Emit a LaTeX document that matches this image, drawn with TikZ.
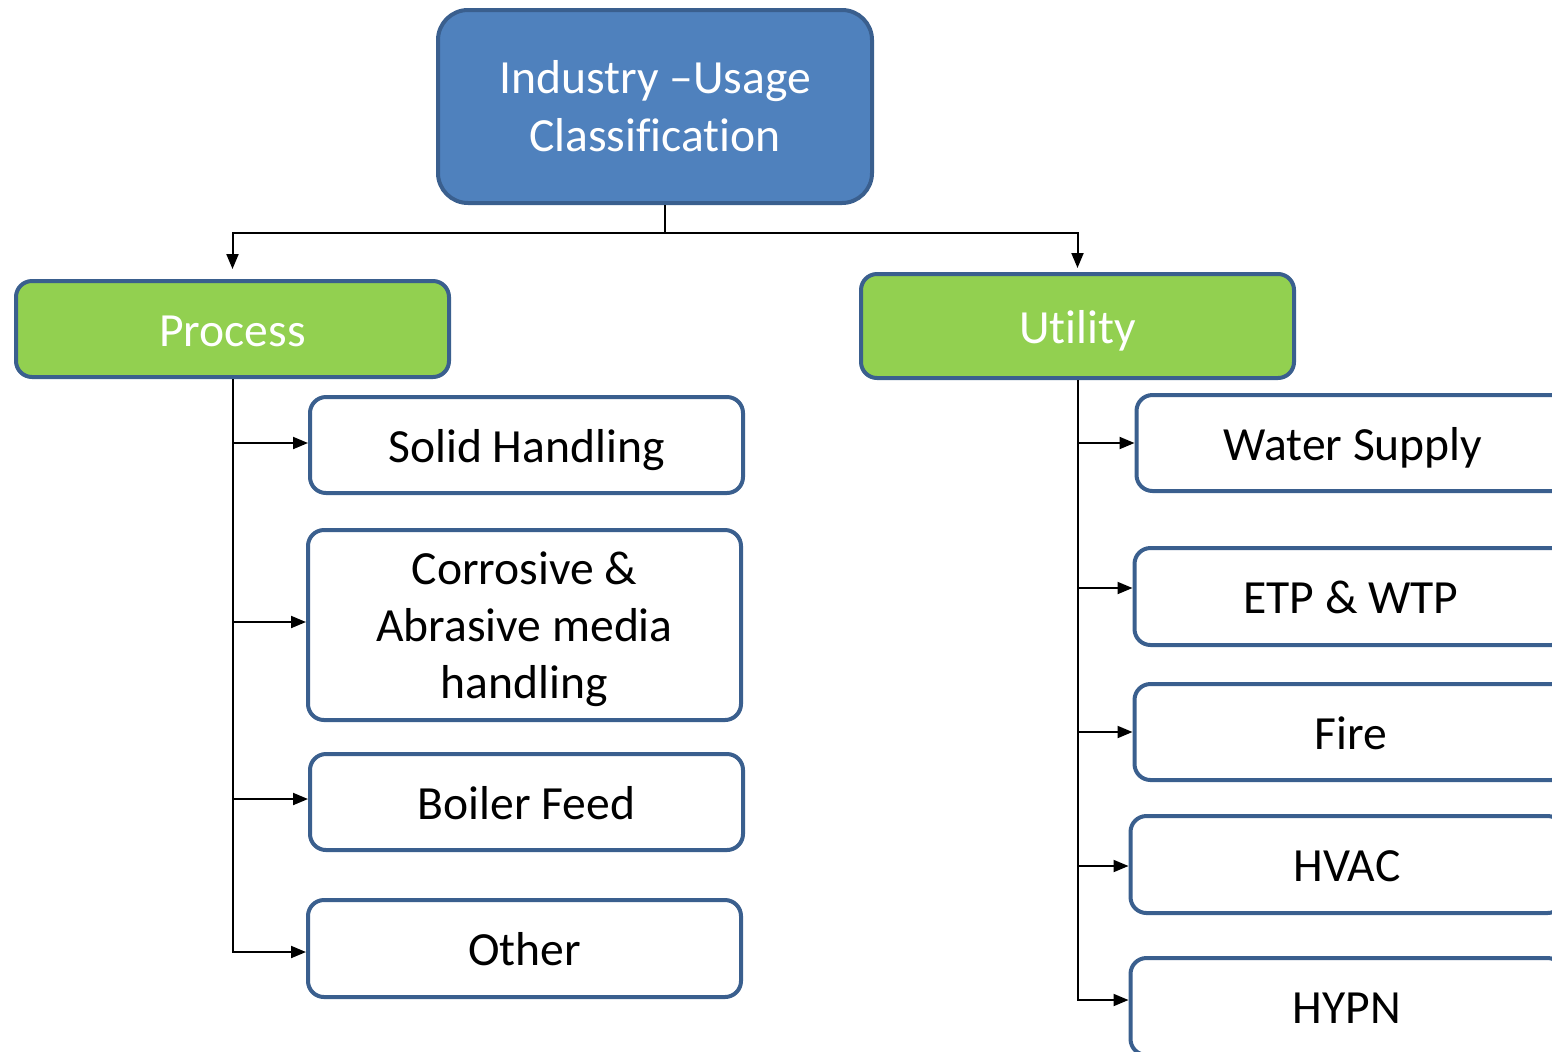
\documentclass[tikz,border=0pt]{standalone}
\usepackage{fontspec}
\setmainfont{Carlito}[Ligatures=NoCommon]
\usetikzlibrary{arrows.meta}
\definecolor{topfill}{HTML}{4F81BD}
\definecolor{bord}{HTML}{3A5F8E}
\definecolor{grn}{HTML}{92D050}
\tikzset{
  basebox/.style={draw=bord, line width=2pt, rounded corners=8pt, fill=white, text=black,
    minimum width=216.5pt, minimum height=48pt, font=\fontsize{23.8}{28.5}\selectfont, align=center, inner sep=0pt},
  box/.style={basebox, text height=19pt, text depth=2pt},
  topbox/.style={basebox, fill=topfill, text=white, rounded corners=15pt, minimum width=217pt, minimum height=96.5pt, font=\fontsize{23.8}{29}\selectfont},
  grnbox/.style={box, fill=grn, text=white},
  conn/.style={line width=1pt, black},
  arr/.style={conn, -{Triangle[length=7.5pt,width=6pt]}}
}
\begin{document}
\begin{tikzpicture}[x=0.5pt,y=-0.5pt]
\useasboundingbox (0,0) rectangle (1552,1051);
\clip (0,0) rectangle (1552,1051);
\node[topbox] (top) at (655,106.5) {Industry –Usage\\Classification};
\node[grnbox] (process) at (232.5,329) {Process};
\node[grnbox, minimum height=52pt] (utility) at (1077.5,326) {Utility};
\node[box] (solid) at (526.5,445) {Solid Handling};
\node[basebox, minimum height=95pt, text depth=0pt] (corr) at (524.5,625) {Corrosive \&\\Abrasive media\\handling};
\node[box] (boiler) at (526.5,802) {Boiler Feed};
\node[box, minimum height=48.5pt] (other) at (524.5,948.5) {Other};
\node[box] (water) at (1353,443) {Water Supply};
\node[box, minimum height=48.5pt] (etp) at (1351,596.5) {ETP \& WTP};
\node[box] (fire) at (1351,732) {Fire};
\node[box, minimum height=48.5pt] (hvac) at (1347,864.5) {HVAC};
\node[box, minimum height=48.5pt] (hypn) at (1347,1006.5) {HYPN};
% top connectors
\coordinate (j) at (665,233);
\draw[conn] (top.south -| j) -- (j);
\draw[arr] (j) -| ([yshift=5pt]process.north);
\draw[arr] (j) -| ([yshift=2pt]utility.north);
% process children
\draw[arr] (process.south) |- ([yshift=1pt]solid.west);
\draw[arr] (process.south) |- ([yshift=1.5pt]corr.west);
\draw[arr] (process.south) |- ([yshift=1.5pt]boiler.west);
\draw[arr] (process.south) |- ([yshift=-1.75pt]other.west);
% utility children
\draw[arr] (utility.south) |- (water.west);
\draw[arr] (utility.south) |- ([yshift=4.25pt]etp.west);
\draw[arr] (utility.south) |- (fire.west);
\draw[arr] (utility.south) |- ([yshift=-0.75pt]hvac.west);
\draw[arr] (utility.south) |- ([yshift=3.25pt]hypn.west);
\end{tikzpicture}
\end{document}
